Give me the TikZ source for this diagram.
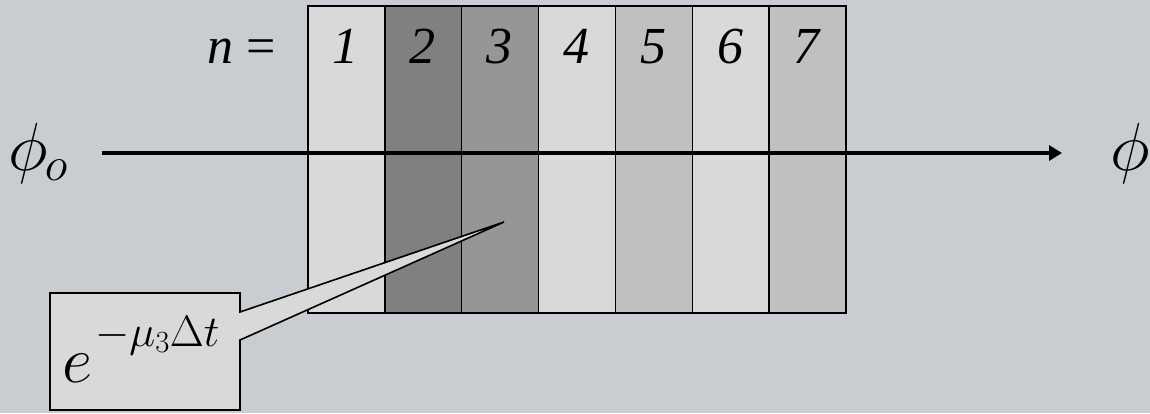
\RequirePackage{fix-cm}
\documentclass[tikz,border=0pt]{standalone}
\usepackage{fontspec}
\setmainfont{Liberation Serif}
\usetikzlibrary{arrows.meta}

\definecolor{fond}{HTML}{C9CCD1}
\definecolor{clair}{HTML}{D9D9D9}
\definecolor{moyen}{HTML}{C0C0C0}
\definecolor{fonce}{HTML}{969696}
\definecolor{sombre}{HTML}{808080}

\tikzset{
  couche/.style={draw, line width=1.6pt, minimum width=77pt, minimum height=307pt,
    inner sep=0pt, anchor=north west},
  numero/.style={font=\fontsize{52}{52}\selectfont\itshape, anchor=base, inner sep=0pt},
  grand/.style={font=\fontsize{68}{68}\selectfont, inner sep=0pt},
}

\begin{document}
\begin{tikzpicture}[x=1pt,y=-1pt]

% Fond
\fill[fond] (0,0) rectangle (1150,413);
\useasboundingbox (0,0) rectangle (1150,413);

% Couches
\foreach \i/\c in {1/clair,2/sombre,3/fonce,4/clair,5/moyen,6/clair,7/moyen}
  \node[couche, fill=\c] (s\i) at ({307+76.9*(\i-1)},5) {};

% Numeros des couches
\foreach \i in {1,...,7}
  \node[numero] (n\i) at ({345.5+76.9*(\i-1)},63) {\i};
\node[numero, font=\fontsize{52}{52}\selectfont, anchor=base east] (neq) at (276,63) {\textit{n} =};

% Flux
\node[grand, anchor=base west] (phio) at (8,170) {$\phi_{\mkern-1mu o}$};
\node[grand, anchor=base] (phi) at (1130,170) {$\phi$};
\coordinate (depart) at (102,153);
\coordinate (fin) at (1062,153);
\draw[line width=4pt, -{Triangle[length=13pt,width=15pt]}] (depart) -- (fin);

% Bulle pour la couche 3
\coordinate (pointe) at (504,222);
\draw[fill=clair, line width=1.6pt] (50,293) -- (240,293) -- (240,312) -- (pointe)
  -- (240,340) -- (240,410) -- (50,410) -- cycle;
\node[anchor=base west, inner sep=0pt] (att) at (62,382)
  {\fontsize{66}{66}\selectfont$e$\hspace{3pt}\raisebox{36pt}{\fontsize{44}{44}\selectfont$-\mu_3\Delta t$}};

\end{tikzpicture}
\end{document}
